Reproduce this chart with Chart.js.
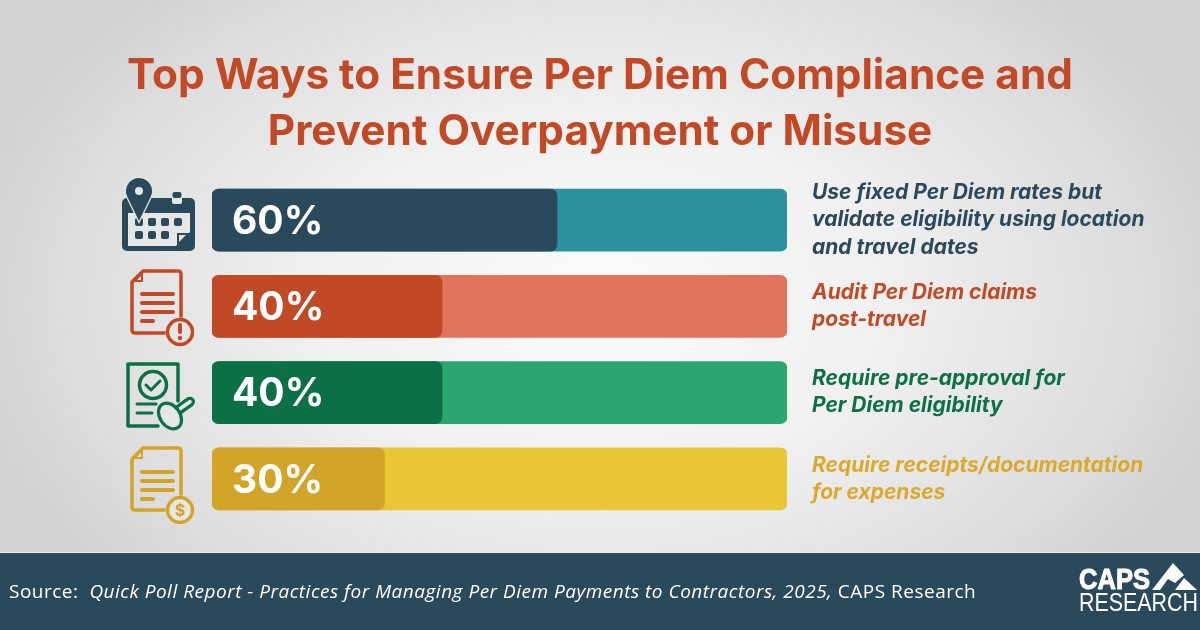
<!DOCTYPE html>
<html>
<head>
<meta charset="utf-8">
<style>
  html, body { margin: 0; padding: 0; }
  body { width: 1200px; height: 630px; overflow: hidden; background: radial-gradient(ellipse 640px 420px at 600px 300px, #fbfbfb 0%, #f0f0f0 45%, #dcdcdc 85%, #d2d2d2 100%); }
  canvas { display: block; }
</style>
</head>
<body>
<canvas id="myChart" width="1200" height="630"></canvas>
<script src="https://cdn.jsdelivr.net/npm/chart.js@4/dist/chart.umd.min.js"></script>
<script>
const titleLines = ["Top Ways to Ensure Per Diem Compliance and", "Prevent Overpayment or Misuse"];
const categories = [
  ["Use fixed Per Diem rates but", "validate eligibility using location", "and travel dates"],
  ["Audit Per Diem claims", "post-travel"],
  ["Require pre-approval for", "Per Diem eligibility"],
  ["Require receipts/documentation", "for expenses"]
];
const percentValues = [60, 40, 40, 30];
const trackValues = [100, 100, 100, 100];
const darkColors = ["#2a4a5c", "#c24925", "#0b7046", "#d2a528"];
const lightColors = ["#2b919f", "#e2735c", "#2ba66f", "#e9c636"];
const labelColors = ["#2a4a5c", "#c24925", "#0b7046", "#dba92c"];
const sourceParts = [
  ["normal", "Source:  "],
  ["italic", "Quick Poll Report - Practices for Managing Per Diem Payments to Contractors, 2025,"],
  ["normal", " CAPS Research"]
];

const FONT = '"Inter", "Open Sans", sans-serif';
const NAVY = "#2a4a5c";
const PAPER = "#e6e6e6";

function roundRect(c, x, y, w, h, r) {
  c.beginPath();
  c.roundRect(x, y, w, h, r);
}

function docIcon(c, color, x, y, w, h, lineYs, shortLine) {
  c.strokeStyle = color;
  c.fillStyle = color;
  c.lineWidth = 3.5;
  c.lineJoin = "round";
  c.lineCap = "round";
  c.beginPath();
  c.moveTo(x + 11, y);
  c.lineTo(x + w - 3, y);
  c.quadraticCurveTo(x + w, y, x + w, y + 3);
  c.lineTo(x + w, y + h - 3);
  c.lineTo(x + 3, y + h - 3);
  c.quadraticCurveTo(x, y + h - 3, x, y + h - 6);
  c.lineTo(x, y + 11);
  c.closePath();
  c.stroke();
  // folded corner
  c.beginPath();
  c.moveTo(x + 11, y + 1);
  c.lineTo(x + 11, y + 11);
  c.lineTo(x + 1, y + 11);
  c.closePath();
  c.fill();
  c.fillStyle = PAPER;
  c.beginPath();
  c.moveTo(x + 9, y + 5);
  c.lineTo(x + 9, y + 9);
  c.lineTo(x + 5, y + 9);
  c.closePath();
  c.fill();
  c.lineWidth = 4;
  lineYs.forEach((ly, i) => {
    c.beginPath();
    c.moveTo(x + 10, ly);
    c.lineTo(x + (i == lineYs.length - 1 ? shortLine : 41), ly);
    c.stroke();
  });
}

function badge(c, color, cx, cy) {
  c.fillStyle = PAPER;
  c.beginPath();
  c.arc(cx, cy, 14.5, 0, Math.PI * 2);
  c.fill();
  c.strokeStyle = color;
  c.lineWidth = 3.5;
  c.beginPath();
  c.arc(cx, cy, 12.5, 0, Math.PI * 2);
  c.stroke();
}

function calendarIcon(c) {
  c.fillStyle = NAVY;
  roundRect(c, 122, 198, 73, 53, 5);
  c.fill();
  c.fillStyle = PAPER;
  c.beginPath();
  c.moveTo(128, 213);
  c.lineTo(190, 213);
  c.lineTo(190, 232);
  c.lineTo(176, 246);
  c.lineTo(128, 246);
  c.closePath();
  c.fill();
  c.fillStyle = NAVY;
  [[152, 222], [165, 222], [178, 222], [139, 235], [152, 235], [165, 235]].forEach(p => {
    roundRect(c, p[0] - 4, p[1] - 4, 8, 8, 2);
    c.fill();
  });
  roundRect(c, 135, 218, 8, 8, 2);
  c.fill();
  // turned corner
  c.beginPath();
  c.moveTo(177, 233);
  c.lineTo(190, 233);
  c.lineTo(177, 246);
  c.closePath();
  c.fill();
  c.fillStyle = PAPER;
  c.beginPath();
  c.moveTo(179, 235);
  c.lineTo(186, 235);
  c.lineTo(179, 242);
  c.closePath();
  c.fill();
  // calendar tab
  roundRect(c, 172, 192, 10, 12, 2);
  c.fill();
  c.fillStyle = NAVY;
  roundRect(c, 172.5, 192, 9, 6, 2);
  c.fill();
  // location pin
  c.beginPath();
  c.arc(139, 191, 13, Math.PI * 0.85, Math.PI * 0.15);
  c.lineTo(139, 221);
  c.closePath();
  c.strokeStyle = PAPER;
  c.lineWidth = 2.5;
  c.stroke();
  c.fillStyle = NAVY;
  c.fill();
  c.fillStyle = PAPER;
  c.beginPath();
  c.arc(139, 191, 4, 0, Math.PI * 2);
  c.fill();
}

function alertIcon(c, color) {
  docIcon(c, color, 132, 271, 49, 65, [294, 303, 312, 321], 21);
  badge(c, color, 180, 332);
  c.fillStyle = color;
  roundRect(c, 178, 323, 4, 11, 2);
  c.fill();
  c.beginPath();
  c.arc(180, 338, 2.2, 0, Math.PI * 2);
  c.fill();
}

function stampIcon(c, color) {
  c.strokeStyle = color;
  c.lineWidth = 3.5;
  c.lineJoin = "round";
  c.lineCap = "round";
  c.beginPath();
  c.moveTo(158, 426);
  c.lineTo(128, 426);
  c.lineTo(128, 364);
  c.lineTo(178, 364);
  c.lineTo(178, 401);
  c.stroke();
  c.beginPath();
  c.arc(153, 385, 13.5, 0, Math.PI * 2);
  c.stroke();
  c.lineWidth = 3;
  c.beginPath();
  c.moveTo(146, 385);
  c.lineTo(151, 390);
  c.lineTo(160, 381);
  c.stroke();
  c.beginPath();
  c.moveTo(137, 404);
  c.lineTo(156, 404);
  c.moveTo(137, 413);
  c.lineTo(152, 413);
  c.stroke();
  // stamp: body across, handle up and to the right
  c.save();
  c.translate(170, 416);
  c.rotate(0.95);
  c.fillStyle = PAPER;
  c.lineWidth = 3.2;
  roundRect(c, -3.5, -28, 7, 20, 3.5);
  c.fill();
  c.stroke();
  c.beginPath();
  c.ellipse(0, 0, 14, 10, 0, 0, Math.PI * 2);
  c.fill();
  c.stroke();
  c.restore();
}

function dollarIcon(c, color) {
  docIcon(c, color, 132, 448, 49, 65, [472, 481, 490, 499], 21);
  badge(c, color, 180, 510);
  c.fillStyle = color;
  c.font = "700 16px " + FONT;
  c.textAlign = "center";
  c.textBaseline = "middle";
  c.fillText("$", 180, 511);
}

function logo(c) {
  c.fillStyle = "#ffffff";
  c.strokeStyle = "#ffffff";
  c.lineWidth = 1;
  c.textAlign = "left";
  c.textBaseline = "alphabetic";
  c.font = '700 29px "Liberation Sans", sans-serif';
  c.fillText("CAPS", 1079, 589, 71);
  c.strokeText("CAPS", 1079, 589, 71);
  c.font = '400 25px "Liberation Sans", sans-serif';
  c.fillText("RESEARCH", 1079, 611, 119);
  c.beginPath();
  c.moveTo(1173, 563);
  c.lineTo(1184, 575);
  c.lineTo(1175, 583);
  c.lineTo(1168, 579);
  c.lineTo(1160, 590);
  c.lineTo(1152, 590);
  c.closePath();
  c.fill();
  c.beginPath();
  c.moveTo(1184, 578);
  c.lineTo(1197, 590);
  c.lineTo(1175, 590);
  c.closePath();
  c.fill();
}

// everything around the bars: title, footer band, icons
const decorations = {
  id: "decorations",
  beforeDraw(chart) {
    const c = chart.ctx;
    c.save();
    c.fillStyle = "#c24925";
    c.font = "700 42.3px " + FONT;
    c.textAlign = "center";
    c.textBaseline = "alphabetic";
    c.fillText(titleLines[0], 600, 89);
    c.fillText(titleLines[1], 600, 145);

    c.fillStyle = "#ececec";
    c.fillRect(0, 552, 1200, 1);
    c.fillStyle = NAVY;
    c.fillRect(0, 553, 1200, 77);

    let x = 9;
    c.fillStyle = "#ffffff";
    c.textAlign = "left";
    c.letterSpacing = "0.5px";
    sourceParts.forEach(p => {
      c.font = p[0] + ' 400 19px "Open Sans", sans-serif';
      c.fillText(p[1], x, 598);
      x += c.measureText(p[1]).width;
    });
    c.letterSpacing = "0px";

    calendarIcon(c);
    alertIcon(c, darkColors[1]);
    stampIcon(c, darkColors[2]);
    dollarIcon(c, darkColors[3]);
    logo(c);
    c.restore();
  },
  // percent labels sit inside the dark bars
  afterDatasetsDraw(chart) {
    const c = chart.ctx;
    const meta = chart.getDatasetMeta(0);
    c.save();
    c.fillStyle = "#ffffff";
    c.font = "700 39px " + FONT;
    c.textAlign = "left";
    c.textBaseline = "middle";
    meta.data.forEach((bar, i) => {
      c.fillText(percentValues[i] + "%", bar.base + 20, bar.y + 2);
    });
    c.restore();
  }
};

const config = {
  type: "bar",
  data: {
    labels: categories,
    datasets: [
      { label: "Share", data: percentValues, backgroundColor: darkColors, order: 1 },
      { label: "Track", data: trackValues, backgroundColor: lightColors, order: 2 }
    ]
  },
  options: {
    indexAxis: "y",
    responsive: false,
    animation: false,
    layout: { padding: { left: 212, right: 0, top: 177, bottom: 108 } },
    datasets: { bar: { grouped: false, barThickness: 62, borderRadius: 7, borderSkipped: false } },
    plugins: { legend: { display: false }, tooltip: { enabled: false } },
    scales: {
      x: { display: false, min: 0, max: 100 },
      y: {
        position: "right",
        afterFit: axis => { axis.width = 413; },
        grid: { display: false, drawTicks: false },
        border: { display: false },
        ticks: {
          autoSkip: false,
          padding: 25,
          crossAlign: "near",
          color: ctx => labelColors[ctx.index],
          font: { family: FONT, size: 21, weight: "700", style: "italic", lineHeight: 1.29 }
        }
      }
    }
  },
  plugins: [decorations]
};

let ctx = document.getElementById("myChart").getContext("2d");
let myChart = new Chart(ctx, config);
</script>
</body>
</html>
